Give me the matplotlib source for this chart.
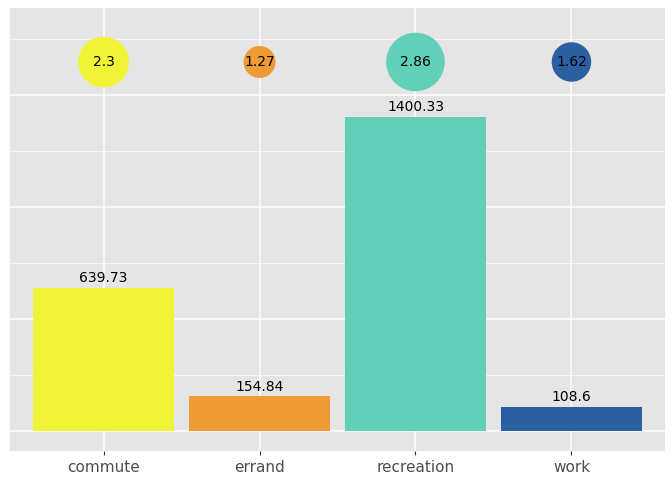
import numpy as np
import matplotlib.pyplot as plt

categories = ['commute', 'errand', 'recreation', 'work']
totals = [639.73, 154.84, 1400.33, 108.6]
ratios = [2.3, 1.27, 2.86, 1.62]
colors = ['#F0F336', '#EE9A35', '#62CFB8', '#2C5FA2']

fig = plt.figure(figsize=(6.72, 4.8), dpi=100)
ax = fig.add_axes([10/672, 29/480, 655/672, 443/480])
ax.set_facecolor('#E5E5E5')
x = np.arange(len(categories))

ax.bar(x, totals, width=0.9, color=colors, zorder=2)
for xi, v in zip(x, totals):
    ax.text(xi, v + 12, f'{v:g}', ha='center', va='bottom', fontsize=10, zorder=3)

circle_y = max(totals) * 1.175
sizes = [760 * r - 480 for r in ratios]
ax.scatter(x, [circle_y] * len(x), s=sizes, c=colors, zorder=3)
for xi, r in zip(x, ratios):
    ax.text(xi, circle_y, f'{r:g}', ha='center', va='center', fontsize=10, zorder=4)

ax.set_xlim(-0.6, 3.6)
ax.set_ylim(-89, 1886)
ax.set_yticks([0, 500, 1000, 1500])
ax.set_yticks([250, 750, 1250, 1750], minor=True)
ax.set_yticklabels([])
ax.tick_params(axis='y', which='both', length=0)
ax.set_xticks(x)
ax.set_xticklabels(categories, fontsize=11, color='#4D4D4D')
ax.tick_params(axis='x', length=3, color='#333333')
ax.grid(True, which='major', color='white', linewidth=1.1, zorder=0)
ax.grid(True, which='minor', axis='y', color='white', linewidth=0.5, zorder=0)
ax.set_axisbelow(True)
for s in ax.spines.values():
    s.set_visible(False)

fig.savefig('out.png')
